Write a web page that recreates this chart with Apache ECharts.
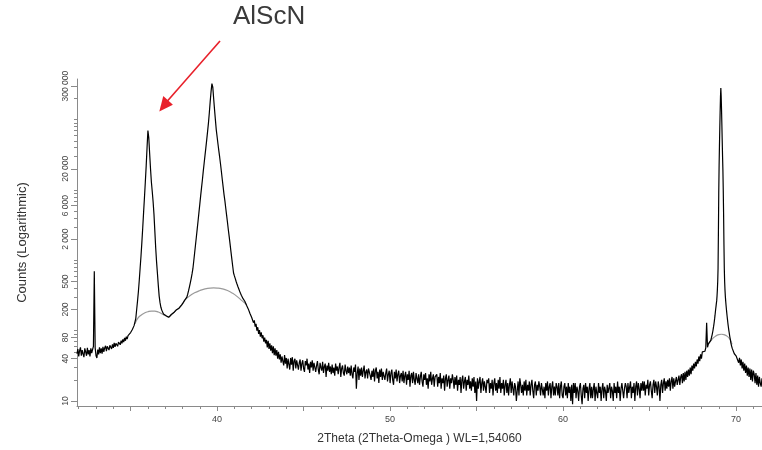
<!DOCTYPE html>
<html><head><meta charset="utf-8">
<script src="https://cdn.jsdelivr.net/npm/echarts@6/dist/echarts.min.js"></script>
<style>html,body{margin:0;padding:0;background:#fff}#c{width:762px;height:450px}</style>
</head><body><div id="c"></div>
<script>
// ---- measured scan (2Theta in degrees, counts) in segments ----
const scanLeftStart = 31.90, scanLeftStep = 0.05;
const scanLeftCounts = [
  47, 55, 43, 52, 58, 44, 53, 47, 42, 56, 50, 44, 57, 46, 53, 43, 56, 48, 54, 60,
  700, 57, 44, 41, 54, 46, 58, 48, 56, 47, 59, 50, 57, 61, 51, 60, 63, 53, 62, 65,
  55, 64, 57, 67, 59, 66, 70, 60, 69, 73, 63, 72, 66, 75, 69, 79, 72, 82, 76, 85,
  88, 83, 94, 98, 104, 111, 118
];
const alscnStart = 35.25, alscnStep = 0.05;
const alscnCounts = [
  125, 150, 200, 265, 360, 520, 780, 1150, 1800, 2900,
  4800, 7800, 13000, 22000, 40000, 70000, 55000, 33000, 20000, 13000,
  9500, 6800, 4500, 2600, 1500, 950, 650, 440, 310, 250,
  215, 196, 184, 172, 170, 162, 163, 157, 160, 155,
  161, 163, 170, 171, 179, 181, 189, 190, 199, 199,
  207, 209, 218, 221, 233, 238, 253, 260, 277, 287,
  300, 330, 370, 420, 480, 550, 640, 760, 980, 1270,
  1650, 2150, 2800, 3650, 4800, 6300, 8300, 10800, 14000, 18500,
  24000, 31000, 40000, 52000, 68000, 90000, 125000, 180000, 250000, 325000,
  290000, 200000, 140000, 100000, 72000, 57000, 45000, 36000, 29000, 23000,
  18000, 14000, 11000, 8600, 7000, 5500, 4350, 3450, 2700, 2150,
  1700, 1330, 1050, 830, 660, 600, 550, 500, 460, 425,
  395, 365, 340, 318, 300, 285, 272, 262
];
const tailStart = 41.65, tailStep = 0.05;
const tailCounts = [
  255, 230, 236, 204, 210, 176, 182, 154, 160, 130, 140, 114, 125, 100, 112, 90, 102, 82, 95, 78,
  86, 70, 80, 66, 74, 58, 72, 55, 66, 52, 62, 48, 60, 45, 56, 44, 53, 40, 50, 39,
  46, 35, 43, 37, 32, 45, 34, 41, 29, 40, 38, 28, 41, 33, 42, 27, 37, 40, 29, 38,
  37, 28, 35, 39, 27, 34, 38, 29, 26, 37, 32, 40, 28, 34, 25, 36, 30, 38, 27, 35,
  35, 26, 32, 37, 28, 24, 35, 30, 27, 36, 25, 31, 34, 22, 32, 27, 35, 26, 31, 24,
  33, 25, 30, 23, 34, 27, 31, 24, 30, 35, 22, 29, 32, 25, 23, 33, 27, 24, 31, 25,
  30, 23, 32, 24, 21, 30, 26, 33, 15, 25, 31, 20, 29, 23, 30, 22, 27, 32, 21, 26,
  28, 21, 29, 30, 23, 20, 27, 22, 29, 19, 27, 30, 21, 26, 18, 28, 22, 29, 20, 26,
  27, 20, 25, 29, 19, 24, 27, 18, 25, 28, 20, 17, 26, 21, 28, 19, 24, 27, 18, 23,
  25, 19, 27, 18, 23, 26, 17, 24, 20, 27, 16, 23, 25, 18, 26, 20, 17, 25, 21, 18,
  24, 17, 22, 26, 19, 16, 24, 20, 25, 17, 21, 15, 24, 19, 26, 17, 21, 24, 16, 22,
  21, 24, 16, 22, 18, 25, 15, 21, 18, 23, 14, 21, 24, 16, 20, 23, 15, 21, 18, 24,
  20, 15, 22, 17, 23, 14, 20, 17, 22, 13, 20, 23, 15, 19, 22, 14, 20, 17, 23, 15,
  19, 14, 21, 16, 22, 13, 19, 10, 21, 15, 19, 22, 13, 18, 21, 14, 19, 16, 13, 20,
  18, 21, 13, 18, 15, 20, 12, 18, 21, 14, 18, 13, 20, 15, 22, 13, 18, 15, 20, 12,
  17, 20, 13, 18, 12, 17, 21, 13, 19, 15, 12, 18, 16, 10, 14, 19, 12, 21, 17, 13,
  17, 12, 19, 14, 20, 12, 17, 14, 19, 12, 17, 20, 14, 11, 17, 19, 12, 17, 14, 19,
  16, 12, 18, 19, 12, 16, 11, 18, 14, 19, 12, 16, 18, 11, 16, 19, 12, 16, 12, 18,
  16, 12, 18, 11, 16, 19, 12, 11, 16, 18, 12, 16, 11, 18, 13, 16, 10, 17, 9, 18,
  13, 18, 11, 16, 14, 10, 16, 18, 12, 9, 15, 17, 11, 18, 13, 16, 10, 15, 18, 11,
  16, 11, 15, 18, 10, 16, 13, 11, 18, 13, 16, 10, 15, 18, 11, 16, 14, 10, 17, 13,
  13, 18, 11, 16, 14, 10, 18, 13, 16, 11, 19, 13, 16, 10, 15, 18, 14, 11, 15, 18,
  16, 11, 18, 13, 16, 19, 11, 16, 13, 18, 10, 16, 19, 12, 18, 15, 11, 18, 14, 19,
  14, 19, 12, 17, 15, 20, 12, 17, 19, 14, 11, 17, 20, 13, 19, 16, 12, 19, 16, 10,
  17, 20, 13, 18, 21, 14, 19, 15, 20, 16, 21, 14, 19, 22, 15, 21, 16, 19, 22, 17,
  20, 23, 17, 22, 24, 18, 25, 19, 26, 20, 27, 22, 28, 23, 30, 24, 32, 27, 34, 29,
  36, 31, 39, 34, 43, 37, 46, 40, 50, 47, 53, 51, 57, 130, 58, 65, 64
];
const peak69Start = 68.48, peak69Step = 0.02;
const peak69Counts = [
  64, 67, 68, 73, 74, 80, 83, 88, 93, 99, 106, 114, 123, 134, 147, 162, 180, 200, 220, 242,
  265, 310, 380, 500, 780, 2500, 9000, 22000, 42000, 75000, 130000, 210000, 282000,
  215000, 140000, 85000, 50000, 30000, 19000, 10000, 4500, 1700, 780,
  500, 380, 310, 265, 232, 205, 182, 163, 147, 133, 121, 111, 102, 95, 88, 82,
  77, 73, 67, 66, 61, 60, 56, 55
];
const rightStart = 69.85, rightStep = 0.05;
const rightCounts = [
  56, 47, 50, 44, 43, 45, 35, 41, 32, 39, 29, 36, 27, 34, 25, 32, 23, 30, 22, 29,
  20, 28, 19, 27, 24, 18, 25, 17, 23, 16, 22, 18, 16, 21
];
// fitted background under the peaks
const bgAngles = [35.25, 35.4, 35.6, 35.8, 36.0, 36.2, 36.4, 36.6, 36.8, 37.0, 37.17, 37.4, 37.6, 37.8, 38.0, 38.15,
  38.4, 38.7, 39.0, 39.3, 39.6, 39.8, 40.0, 40.3, 40.6, 40.9, 41.2, 41.45, 41.72];
const bgCounts = [125, 148, 166, 178, 186, 190, 190, 184, 174, 164, 157, 172, 192, 210, 240, 275,
  310, 345, 372, 392, 403, 405, 403, 393, 372, 340, 300, 265, 234];
const bg69Angles = [68.38, 68.6, 68.8, 69.0, 69.15, 69.3, 69.5, 69.65, 69.77];
const bg69Counts = [64, 75, 83, 88, 89, 88, 83, 75, 64];
// axis ticks / labels
const yDecades = [10, 100, 1000, 10000, 100000];
const yMultipliers = [1, 2, 3, 4, 5, 6, 7, 8, 9];
const yLabelValues = [10, 40, 80, 200, 500, 2000, 6000, 20000, 300000];
const xLabelValues = [40, 50, 60, 70];
const xMinorTicks = [32,33,34,35,36,37,38,39,40,41,42,43,44,45,46,47,48,49,50,51,52,53,54,55,56,57,58,59,60,61,62,63,64,65,66,67,68,69,70,71];
const xMajorTicks = [35, 40, 45, 50, 55, 60, 65, 70];

function seg(start, step, arr) { return arr.map((v, i) => [+(start + i * step).toFixed(2), v]); }
const scan = [].concat(
  seg(scanLeftStart, scanLeftStep, scanLeftCounts),
  seg(alscnStart, alscnStep, alscnCounts),
  seg(tailStart, tailStep, tailCounts),
  seg(peak69Start, peak69Step, peak69Counts),
  seg(rightStart, rightStep, rightCounts)
);
const bg1 = bgAngles.map((a, i) => [a, bgCounts[i]]);
const bg2 = bg69Angles.map((a, i) => [a, bg69Counts[i]]);
const yTicks = [];
yDecades.forEach(d => yMultipliers.forEach(m => { if (d * m <= 300000) yTicks.push(d * m); }));

const fmt = v => String(v).replace(/\B(?=(\d{3})+(?!\d))/g, ' ');
const axisGray = '#8a8a8a';
const X_MIN = 31.9, X_MAX = 71.5, Y_MIN = 8.5, Y_MAX = 378000;

const chart = echarts.init(document.getElementById('c'), null, { renderer: 'canvas' });
chart.setOption({
  animation: false,
  textStyle: { fontFamily: 'Liberation Sans, Arial, sans-serif' },
  grid: { left: 77, right: 0, top: 79, bottom: 41, containLabel: false },
  xAxis: [{
    type: 'value', min: X_MIN, max: X_MAX,
    name: '2Theta (2Theta-Omega ) WL=1,54060', nameLocation: 'middle', nameGap: 27,
    nameTextStyle: { fontSize: 12, color: '#333' },
    axisLine: { lineStyle: { color: axisGray, width: 1 } },
    axisTick: { customValues: xMinorTicks, length: 3, lineStyle: { color: axisGray } },
    axisLabel: { customValues: xLabelValues, fontSize: 9, color: '#444', margin: 9 },
    splitLine: { show: false }
  }, {
    type: 'value', min: X_MIN, max: X_MAX, position: 'bottom', gridIndex: 0,
    axisLine: { show: false },
    axisTick: { customValues: xMajorTicks, length: 5, lineStyle: { color: axisGray } },
    axisLabel: { show: false }, splitLine: { show: false }
  }],
  yAxis: [{
    type: 'log', logBase: 10, min: Y_MIN, max: Y_MAX,
    name: 'Counts (Logarithmic)', nameLocation: 'middle', nameGap: 48, nameRotate: 90,
    nameTextStyle: { fontSize: 13, color: '#333' },
    axisLine: { show: true, lineStyle: { color: axisGray, width: 1 } },
    axisTick: { show: true, customValues: yTicks, length: 3, lineStyle: { color: axisGray } },
    axisLabel: { customValues: yLabelValues, rotate: 90, fontSize: 8.5, color: '#444', margin: 7, formatter: fmt },
    splitLine: { show: false }
  }, {
    type: 'log', logBase: 10, min: Y_MIN, max: Y_MAX, position: 'left', gridIndex: 0,
    axisLine: { show: false },
    axisTick: { show: true, customValues: yLabelValues, length: 6, lineStyle: { color: axisGray } },
    axisLabel: { show: false }, splitLine: { show: false }
  }],
  series: [
    { type: 'line', data: bg1, symbol: 'none', smooth: true, lineStyle: { color: '#9a9a9a', width: 1.2 }, z: 1 },
    { type: 'line', data: bg2, symbol: 'none', smooth: true, lineStyle: { color: '#9a9a9a', width: 1.2 }, z: 1 },
    { type: 'line', data: scan, symbol: 'none', sampling: null, lineStyle: { color: '#000', width: 1.2 }, z: 2 }
  ],
  graphic: [
    { type: 'text', left: 233, top: 4, style: { text: 'AlScN', font: '26px "Liberation Sans", Arial, sans-serif', fill: '#3a3a3a' } },
    { type: 'line', shape: { x1: 220, y1: 41, x2: 167, y2: 101.5 }, style: { stroke: '#e8202a', lineWidth: 1.6 } },
    { type: 'polygon', shape: { points: [[159.3, 111.5], [172.9, 104.8], [163.3, 96.0]] }, style: { fill: '#e8202a' } }
  ]
});
</script>
</body></html>
